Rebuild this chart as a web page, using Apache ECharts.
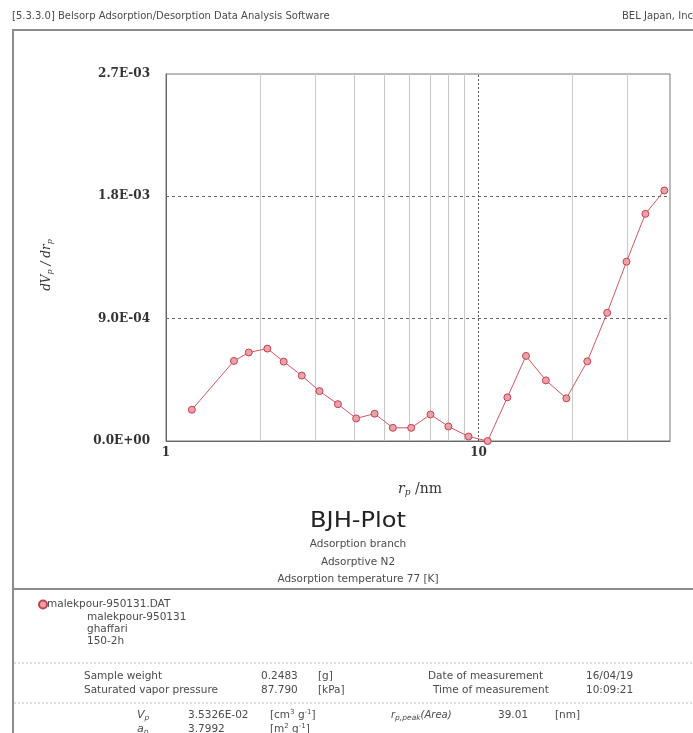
<!DOCTYPE html>
<html>
<head>
<meta charset="utf-8">
<script src="https://cdn.jsdelivr.net/npm/echarts@6/dist/echarts.min.js"></script>
<style>
html,body{margin:0;padding:0;background:#fff;}
#c{width:693px;height:733px;}
</style>
</head>
<body>
<div id="c"></div>
<script>
// ---- data (pore radius r_p / nm, dVp/drp) ----
var poreRadius = [1.21, 1.65, 1.84, 2.11, 2.38, 2.72, 3.10, 3.55, 4.06, 4.65, 5.32, 6.09, 7.02, 8.01, 9.29, 10.70, 12.37, 14.19, 16.43, 19.11, 22.29, 25.81, 29.76, 34.20, 39.33];
var dVpdrp = [2.30e-4, 5.89e-4, 6.51e-4, 6.80e-4, 5.84e-4, 4.81e-4, 3.67e-4, 2.71e-4, 1.66e-4, 2.01e-4, 0.97e-4, 0.97e-4, 1.95e-4, 1.07e-4, 0.33e-4, 0.0, 3.21e-4, 6.26e-4, 4.46e-4, 3.14e-4, 5.86e-4, 9.43e-4, 1.319e-3, 1.671e-3, 1.843e-3];
var xTickValues = [1, 10];
var xTickLabels = ['1', '10'];
var yTickLabels = ['0.0E+00', '9.0E-04', '1.8E-03', '2.7E-03'];
var xMinorGrid = [2, 3, 4, 5, 6, 7, 8, 9, 20, 30];
var xMajorGrid = [10];
var seriesName = 'malekpour-950131.DAT';

var chart = echarts.init(document.getElementById('c'), null, {renderer: 'canvas'});

var pts = poreRadius.map(function (r, i) { return [r, dVpdrp[i]]; });

var sans = 'DejaVu Sans';
var serif = 'DejaVu Serif';
var SMALL = '10.5px "DejaVu Sans"';
var INK = '#4a4a4a';
function txt(x, y, s, extra) {
  var st = {text: s, x: x, y: y, font: SMALL, fill: INK, textVerticalAlign: 'middle'};
  if (extra) for (var k in extra) st[k] = extra[k];
  return {type: 'text', silent: true, style: st};
}
function rich(x, y, s, r, extra) {
  var el = {type: 'text', silent: true, x: x, y: y, style: {text: s, textVerticalAlign: 'middle', font: SMALL, fill: INK, rich: r}};
  if (extra) for (var k in extra) el[k] = extra[k];
  return el;
}
var ital = {fontFamily: sans, fontStyle: 'italic', fontSize: 11, fill: INK};
var subI = {fontFamily: sans, fontStyle: 'italic', fontSize: 7.5, fill: INK, padding: [6, 0, 0, 0]};
var sup = {fontFamily: sans, fontSize: 7, fill: INK, padding: [0, 0, 6, 0]};

var gridMarks = xMinorGrid.map(function (v) {
  return {xAxis: v, lineStyle: {color: '#c9c9c9', width: 1, type: 'solid'}};
}).concat(xMajorGrid.map(function (v) {
  return {xAxis: v, lineStyle: {color: '#555', width: 1, type: [2, 2]}};
}));

var option = {
  animation: false,
  backgroundColor: '#fff',
  grid: {left: 166, right: 23, top: 74, bottom: 292, show: true, borderColor: '#777', borderWidth: 1, backgroundColor: 'transparent'},
  legend: {
    data: [seriesName], left: 33, top: 594, itemWidth: 8, itemHeight: 8, itemGap: 2,
    icon: 'circle', textStyle: {fontFamily: sans, fontSize: 10.5, color: INK, padding: [0, 0, 0, -5]}
  },
  xAxis: {
    type: 'log', logBase: 10, min: 1, max: 41,
    axisLine: {show: true, lineStyle: {color: '#666'}},
    axisTick: {show: false},
    splitLine: {show: false},
    axisLabel: {
      margin: 6, fontFamily: serif, fontWeight: 'bold', fontSize: 12, color: '#333',
      showMaxLabel: false,
      formatter: function (v) {
        for (var i = 0; i < xTickValues.length; i++) {
          if (Math.abs(v - xTickValues[i]) < 1e-6) return xTickLabels[i];
        }
        return '';
      }
    }
  },
  yAxis: {
    type: 'value', min: 0, max: 0.0027, interval: 0.0009,
    axisLine: {show: true, lineStyle: {color: '#666'}},
    axisTick: {show: false},
    splitLine: {show: true, showMinLine: false, showMaxLine: false, lineStyle: {color: '#666', type: [3, 3], width: 1}},
    axisLabel: {
      margin: 16, fontFamily: serif, fontWeight: 'bold', fontSize: 12, color: '#333',
      formatter: function (v, i) { return yTickLabels[i]; }
    }
  },
  series: [
    {
      name: 'grid', type: 'line', data: [], silent: true, z: 1,
      markLine: {silent: true, symbol: 'none', label: {show: false}, animation: false, data: gridMarks}
    },
    {
      name: seriesName, type: 'line', data: pts, z: 5,
      symbol: 'circle', symbolSize: 7,
      lineStyle: {color: '#cf5662', width: 1},
      itemStyle: {color: '#e8a3aa', borderColor: '#c5404e', borderWidth: 1}
    }
  ],
  graphic: [
    // frame
    {type: 'rect', silent: true, z: -1, shape: {x: 13, y: 30, width: 700, height: 720}, style: {fill: 'none', stroke: '#8c8c8c', lineWidth: 2}},
    {type: 'line', silent: true, shape: {x1: 13, y1: 589, x2: 693, y2: 589}, style: {stroke: '#8c8c8c', lineWidth: 2}},
    {type: 'line', silent: true, shape: {x1: 14, y1: 663, x2: 693, y2: 663}, style: {stroke: '#bdbdbd', lineWidth: 1, lineDash: [2, 2]}},
    {type: 'line', silent: true, shape: {x1: 14, y1: 703, x2: 693, y2: 703}, style: {stroke: '#bdbdbd', lineWidth: 1, lineDash: [2, 2]}},
    // header
    txt(12, 16, '[5.3.3.0] Belsorp Adsorption/Desorption Data Analysis Software', {font: '10px "DejaVu Sans"'}),
    txt(622, 16, 'BEL Japan, Inc.', {font: '10px "DejaVu Sans"'}),
    // y axis name
    {type: 'text', silent: true, x: 47, y: 265, rotation: Math.PI / 2,
      style: {text: '{i|dV}{s|p}{i| / dr}{s|p}', textAlign: 'center', textVerticalAlign: 'middle',
        rich: {i: {fontFamily: serif, fontStyle: 'italic', fontSize: 12, fill: '#333'},
               s: {fontFamily: serif, fontStyle: 'italic', fontSize: 8, fill: '#333', padding: [6, 0, 0, 0]}}}},
    // x axis name
    {type: 'text', silent: true, x: 420, y: 489,
      style: {text: '{i|r}{s|p}{n| /nm}', textAlign: 'center', textVerticalAlign: 'middle',
        rich: {i: {fontFamily: serif, fontStyle: 'italic', fontSize: 14, fill: '#333'},
               s: {fontFamily: serif, fontStyle: 'italic', fontSize: 9, fill: '#333', padding: [7, 0, 0, 0]},
               n: {fontFamily: serif, fontSize: 14, fill: '#333'}}}},
    // titles
    {type: 'text', silent: true, x: 358, y: 522, scaleX: 1.15,
      style: {text: 'BJH-Plot', font: '21px "DejaVu Sans"', fill: '#222', textAlign: 'center', textVerticalAlign: 'middle'}},
    txt(358, 544, 'Adsorption branch', {textAlign: 'center'}),
    txt(358, 562, 'Adsorptive N2', {textAlign: 'center'}),
    txt(358, 579, 'Adsorption temperature 77 [K]', {textAlign: 'center'}),
    // sample info
    txt(87, 617, 'malekpour-950131'),
    txt(87, 629, 'ghaffari'),
    txt(87, 641, '150-2h'),
    txt(84, 676, 'Sample weight'),
    txt(261, 676, '0.2483'),
    txt(318, 676, '[g]'),
    txt(428, 676, 'Date of measurement'),
    txt(586, 676, '16/04/19'),
    txt(84, 690, 'Saturated vapor pressure'),
    txt(261, 690, '87.790'),
    txt(318, 690, '[kPa]'),
    txt(433, 690, 'Time of measurement'),
    txt(586, 690, '10:09:21'),
    rich(137, 715, '{i|V}{s|p}', {i: ital, s: subI}),
    txt(188, 715, '3.5326E-02'),
    rich(270, 715, '[cm{u|3} g{u|-1}]', {u: sup}),
    rich(391, 715, '{i|r}{s|p,peak}{i|(Area)}', {i: {fontFamily: sans, fontStyle: 'italic', fontSize: 10, fill: INK}, s: subI}),
    txt(498, 715, '39.01'),
    txt(555, 715, '[nm]'),
    rich(137, 729, '{i|a}{s|p}', {i: ital, s: subI}),
    txt(188, 729, '3.7992'),
    rich(270, 729, '[m{u|2} g{u|-1}]', {u: sup})
  ]
};
chart.setOption(option);
</script>
</body>
</html>
